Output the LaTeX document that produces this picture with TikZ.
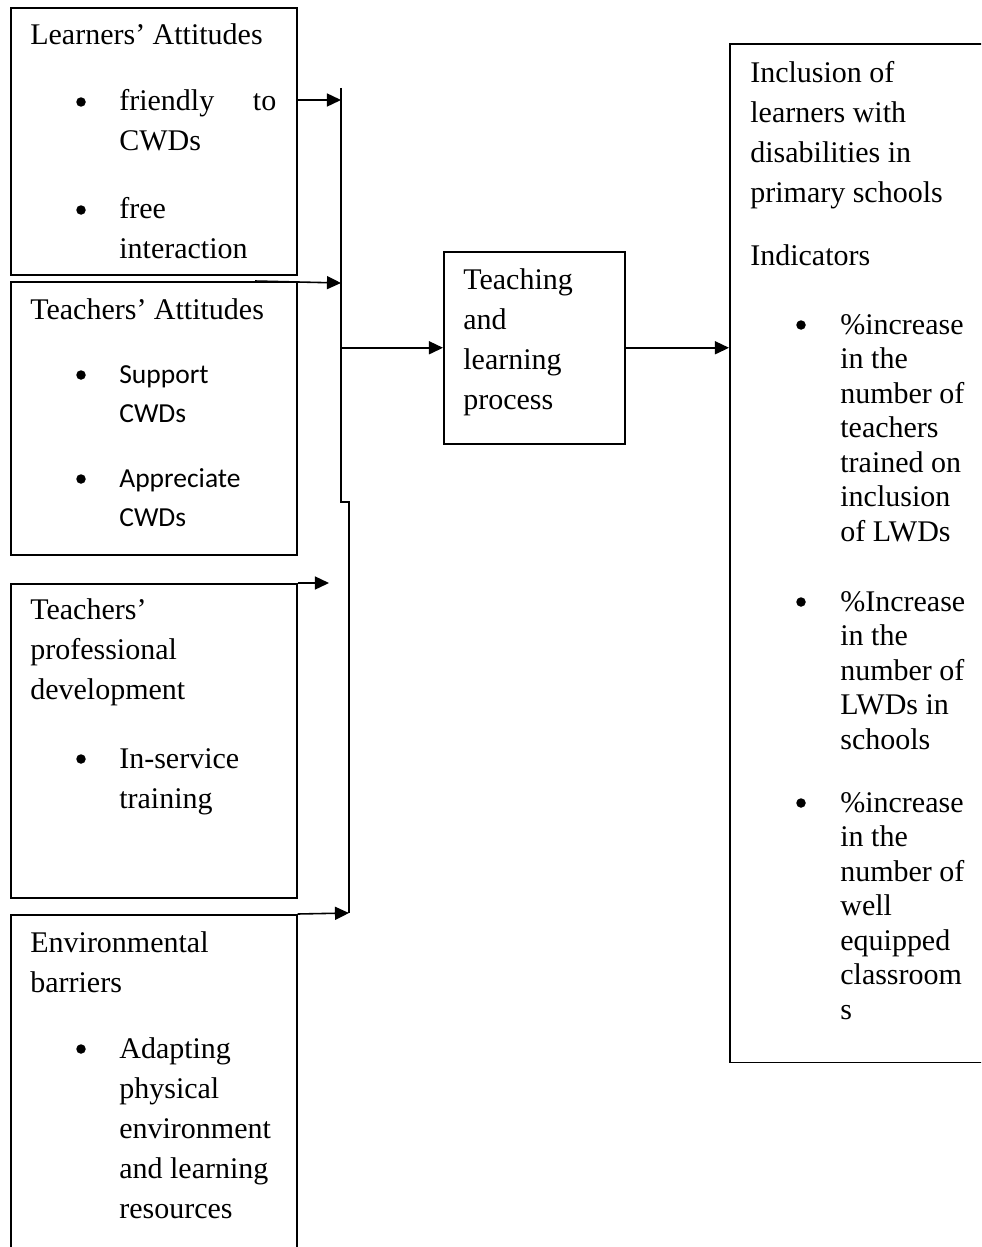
\documentclass[tikz,border=0pt]{standalone}
\usepackage{fontspec}
\setmainfont{Liberation Serif}
\newfontfamily\calibri{Carlito}
\usetikzlibrary{arrows.meta}
\newcommand{\bodyfont}{\fontsize{17.07pt}{22.76pt}\selectfont}
\newcommand{\listfont}{\fontsize{17.07pt}{19.63pt}\selectfont}
\newcommand{\sansfont}{\calibri\fontsize{15.65pt}{22.2pt}\selectfont}
\tikzset{
  box/.style={draw, line width=0.9pt, inner sep=0pt, anchor=north west, minimum width=5.72cm},
  txt/.style={inner sep=0pt, anchor=north west, align=left, font=\bodyfont},
  dot/.style={circle, fill=black, inner sep=0pt, minimum size=0.19cm},
  wire/.style={line width=0.9pt},
  arr/.style={line width=0.9pt, -{Triangle[length=8pt,width=7.4pt]}}
}

\begin{document}
\begin{tikzpicture}[x=0.02cm, y=-0.02cm]
\useasboundingbox (0,0) rectangle (981,1247);
\clip (0,0) rectangle (981,1247);
% input boxes on the left
\node[box, minimum height=5.34cm] (learners) at (10,7) {};
\node[box, minimum height=5.46cm] (teachers) at (10,281) {};
\node[box, minimum height=6.28cm] (profdev) at (10,583) {};
\node[box, minimum height=8cm] (envbar) at (10,914) {};
% learners' attitudes
\node[txt] (learnersTitle) at (30,16) {\strut Learners’ Attitudes};
\node[dot] (learnersDotA) at (81,102) {};
\node[txt] (learnersItemA) at (119,82) {\strut\makebox[3.14cm][s]{friendly to}\\CWDs};
\node[dot] (learnersDotB) at (81,210) {};
\node[txt] (learnersItemB) at (119,190) {\strut free\\interaction};
% teachers' attitudes
\node[txt] (teachersTitle) at (30,291) {\strut Teachers’ Attitudes};
\node[dot] (teachersDotA) at (81,375) {};
\node[txt, font=\sansfont] (teachersItemA) at (119,356) {\strut Support\\CWDs};
\node[dot] (teachersDotB) at (81,479) {};
\node[txt, font=\sansfont] (teachersItemB) at (119,460) {\strut Appreciate\\CWDs};
% professional development
\node[txt] (profdevTitle) at (30,591) {\strut Teachers’\\professional\\development};
\node[dot] (profdevDot) at (81,759) {};
\node[txt] (profdevItem) at (119,740) {\strut In-service\\training};
% environmental barriers
\node[txt] (envbarTitle) at (30,924) {\strut Environmental\\barriers};
\node[dot] (envbarDot) at (81,1049) {};
\node[txt] (envbarItem) at (119,1030) {\strut Adapting\\physical\\environment\\and learning\\resources};
% process box
\node[box, minimum width=3.62cm, minimum height=3.84cm] (process) at (443,251) {};
\node[txt] (processText) at (463,261) {\strut Teaching\\and\\learning\\process};
% outcome box
\node[box, minimum width=6cm, minimum height=20.38cm] (inclusion) at (729,43) {};
\node[txt] (inclusionTitle) at (750,54) {\strut Inclusion of\\learners with\\disabilities in\\primary schools};
\node[txt] (indicators) at (750,237) {\strut Indicators};
\node[dot] (indDotA) at (801,325) {};
\node[txt, font=\listfont] (indItemA) at (840,310) {\strut\%increase\\in the\\number of\\teachers\\trained on\\inclusion\\of LWDs};
\node[dot] (indDotB) at (801,602) {};
\node[txt, font=\listfont] (indItemB) at (840,587) {\strut\%Increase\\in the\\number of\\LWDs in\\schools};
\node[dot] (indDotC) at (801,803) {};
\node[txt, font=\listfont] (indItemC) at (840,788) {\strut\%increase\\in the\\number of\\well\\equipped\\classroom\\s};
% collecting line
\coordinate (busTop) at (341,88);
\coordinate (busJog) at (341,502);
\coordinate (busEnd) at (349,913);
\coordinate (inLearners) at (341,100);
\coordinate (inTeachers) at (341,283);
\coordinate (teachersStart) at (255,281);
\coordinate (profdevTip) at (329,583);
\draw[wire] (busTop) -- (busJog) -- ++(8,0) -- (busEnd);
\draw[arr] (learners.east |- inLearners) -- (inLearners);
\draw[arr] (teachersStart) -- (inTeachers);
\draw[arr] (profdev.north east) -- (profdevTip);
\draw[arr] (envbar.north east) -- (busEnd);
\draw[arr] (busTop |- process.west) -- (process.west);
\draw[arr] (process.east) -- (inclusion.west |- process.east);
\end{tikzpicture}
\end{document}
